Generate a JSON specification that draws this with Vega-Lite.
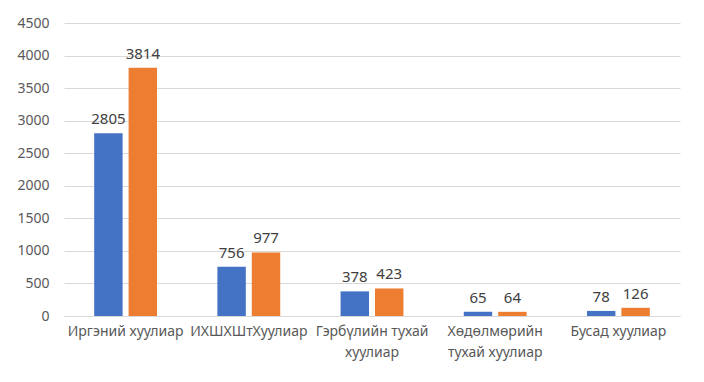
{
  "$schema": "https://vega.github.io/schema/vega-lite/v6.json",
  "width": 616,
  "height": 293,
  "autosize": {"type": "none"},
  "padding": {"left": 64, "top": 23, "right": 24, "bottom": 66},
  "background": "white",
  "config": {
    "view": {"stroke": null},
    "font": "Noto Sans"
  },
  "data": {
    "values": [
      {"cat": "Иргэний хуулиар", "series": "A", "value": 2805},
      {"cat": "Иргэний хуулиар", "series": "B", "value": 3814},
      {"cat": "ИХШХШтХуулиар", "series": "A", "value": 756},
      {"cat": "ИХШХШтХуулиар", "series": "B", "value": 977},
      {"cat": "Гэрбүлийн тухай|хуулиар", "series": "A", "value": 378},
      {"cat": "Гэрбүлийн тухай|хуулиар", "series": "B", "value": 423},
      {"cat": "Хөдөлмөрийн|тухай хуулиар", "series": "A", "value": 65},
      {"cat": "Хөдөлмөрийн|тухай хуулиар", "series": "B", "value": 64},
      {"cat": "Бусад хуулиар", "series": "A", "value": 78},
      {"cat": "Бусад хуулиар", "series": "B", "value": 126}
    ]
  },
  "encoding": {
    "x": {
      "field": "cat",
      "type": "nominal",
      "sort": null,
      "scale": {"paddingInner": 0.49, "paddingOuter": 0.245},
      "axis": {
        "title": null,
        "labelAngle": 0,
        "labelExpr": "split(datum.label, '|')",
        "labelFont": "Noto Sans",
        "labelFontSize": 14,
        "labelColor": "#595959",
        "labelPadding": 8,
        "labelLineHeight": 21,
        "labelOverlap": false,
        "labelLimit": 0,
        "ticks": false,
        "domainColor": "#d9d9d9",
        "domainWidth": 1
      }
    },
    "xOffset": {"field": "series", "type": "nominal", "scale": {"paddingInner": 0.174}},
    "y": {
      "field": "value",
      "type": "quantitative",
      "scale": {"domain": [0, 4500], "nice": false},
      "axis": {
        "title": null,
        "format": "d",
        "values": [0, 500, 1000, 1500, 2000, 2500, 3000, 3500, 4000, 4500],
        "labelFont": "Noto Sans",
        "labelFontSize": 14,
        "labelColor": "#595959",
        "labelPadding": 15,
        "ticks": false,
        "domain": false,
        "gridColor": "#d9d9d9",
        "gridWidth": 1
      }
    }
  },
  "layer": [
    {
      "mark": {"type": "bar"},
      "encoding": {
        "color": {
          "field": "series",
          "type": "nominal",
          "scale": {"domain": ["A", "B"], "range": ["#4472C4", "#ED7D31"]},
          "legend": null
        }
      }
    },
    {
      "mark": {"type": "text", "baseline": "bottom", "dy": -6, "fontSize": 15, "font": "Noto Sans", "color": "#404040"},
      "encoding": {
        "text": {"field": "value", "type": "quantitative", "format": "d"}
      }
    }
  ]
}
